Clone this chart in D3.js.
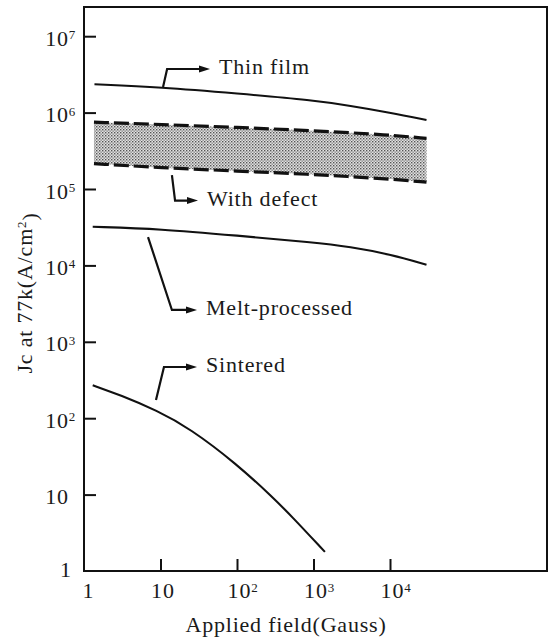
<!DOCTYPE html>
<html><head><meta charset="utf-8">
<script src="https://cdn.jsdelivr.net/npm/d3@7"></script>
<style>body{margin:0;background:#fff}svg text{font-family:"Liberation Serif","Times New Roman",serif;fill:#1a1a1a}</style>
</head><body><svg id="c" width="549" height="640"></svg>
<script>
// Data (x in Gauss, y in A/cm^2)
const thinFilmX = [1.37, 10, 100, 1000, 3000, 10000, 30000];
const thinFilmY = [2.35e6, 2.15e6, 1.78e6, 1.45e6, 1.23e6, 1.0e6, 8.0e5];
const defectUpperX = [1.35, 10, 100, 1000, 10000, 30000];
const defectUpperY = [7.5e5, 7.0e5, 6.4e5, 5.8e5, 5.1e5, 4.6e5];
const defectLowerX = [1.35, 10, 100, 1000, 3000, 10000, 30000];
const defectLowerY = [2.15e5, 1.9e5, 1.72e5, 1.55e5, 1.45e5, 1.35e5, 1.23e5];
const meltX = [1.3, 10, 100, 1000, 3000, 10000, 30000];
const meltY = [3.2e4, 3.0e4, 2.45e4, 2.0e4, 1.75e4, 1.4e4, 1.02e4];
const sinteredX = [1.3, 3, 9, 24, 100, 300, 500, 1410];
const sinteredY = [270, 200, 126, 74, 25, 9.0, 5.4, 1.78];
const xTickVals = [1, 10, 100, 1000, 10000];
const xTickLabels = ["1", "10", "10^2", "10^3", "10^4"];
const yTickVals = [1, 10, 100, 1000, 1e4, 1e5, 1e6, 1e7];
const yTickLabels = ["1", "10", "10^2", "10^3", "10^4", "10^5", "10^6", "10^7"];
const annotations = [
  {label: "Thin film", at: [10.8, 2.16e6], elbow: [12.2, 3.72e6], tip: [44.4, 3.72e6]},
  {label: "With defect", at: [14.1, 1.52e5], elbow: [15.5, 7.05e4], tip: [30.9, 7.05e4]},
  {label: "Melt-processed", at: [6.87, 2.35e4], elbow: [14.1, 2.61e3], tip: [30.0, 2.61e3]},
  {label: "Sintered", at: [8.73, 173], elbow: [11.1, 468], tip: [30.0, 468]}
];

const svg = d3.select("#c");
const L = 84, T = 7, R = 547, B = 571;
const x = d3.scaleLog().domain([1, Math.pow(10, (R - L) / 76.5)]).range([L, R]);
const y = d3.scaleLog().domain([1, Math.pow(10, (B - T) / 76.4)]).range([B, T]);
const FS = 22, LS = "0.8px";

// stipple pattern
const defs = svg.append("defs");
const pat = defs.append("pattern").attr("id", "stip").attr("patternUnits", "userSpaceOnUse").attr("width", 3).attr("height", 3);
pat.append("rect").attr("width", 3).attr("height", 3).attr("fill", "#e2e2e2");
pat.append("rect").attr("x", 0).attr("y", 0).attr("width", 1.4).attr("height", 1.4).attr("fill", "#555");
pat.append("rect").attr("x", 1.5).attr("y", 1.5).attr("width", 1.3).attr("height", 1.3).attr("fill", "#777");

// frame
svg.append("rect").attr("x", L).attr("y", T).attr("width", R - L).attr("height", B - T)
  .attr("fill", "none").attr("stroke", "#111").attr("stroke-width", 2);

// axes with inward ticks
const xAxis = svg.append("g").attr("transform", `translate(0,${B})`)
  .call(d3.axisBottom(x).tickValues(xTickVals.slice(1)).tickSize(-12).tickFormat(() => ""));
xAxis.select(".domain").remove();
xAxis.selectAll(".tick line").attr("stroke", "#111").attr("stroke-width", 2);
const yAxis = svg.append("g").attr("transform", `translate(${L},0)`)
  .call(d3.axisLeft(y).tickValues(yTickVals.slice(1)).tickSize(-12).tickFormat(() => ""));
yAxis.select(".domain").remove();
yAxis.selectAll(".tick line").attr("stroke", "#111").attr("stroke-width", 2);

function powLabel(g, lab, px, py, anchorBaseEnd) {
  const parts = lab.split("^");
  const t = g.append("text").attr("y", py).attr("font-size", FS + "px").attr("letter-spacing", LS);
  t.append("tspan").text(parts[0]);
  if (parts[1]) t.append("tspan").attr("dy", "-0.5em").attr("font-size", "13px").text(parts[1]);
  const baseW = parts[0].length * FS * 0.5 + (parts[0].length - 1) * 0.8;
  if (anchorBaseEnd) t.attr("x", px - baseW);
  else t.attr("x", px - baseW / 2);
}
const xl = svg.append("g");
xTickVals.forEach((v, i) => powLabel(xl, xTickLabels[i], x(v) + (i === 0 ? 4 : 2), 598, false));
const ylab = svg.append("g");
yTickVals.forEach((v, i) => powLabel(ylab, yTickLabels[i], i === 0 ? 71 : 68, y(v) + (i === 0 ? 6 : 9.5), true));

// band
const interpLower = xv => {
  const s = d3.scaleLinear().domain(defectLowerX.map(Math.log10)).range(defectLowerY.map(Math.log10));
  return Math.pow(10, s(Math.log10(xv)));
};
const bandPts = defectLowerX.map(v => {
  const su = d3.scaleLinear().domain(defectUpperX.map(Math.log10)).range(defectUpperY.map(Math.log10));
  return [v, Math.pow(10, su(Math.log10(v))), interpLower(v)];
});
const area = d3.area().x(d => x(d[0])).y0(d => y(d[2])).y1(d => y(d[1])).curve(d3.curveMonotoneX);
svg.append("path").datum(bandPts).attr("d", area).attr("fill", "url(#stip)");

const line = d3.line().x(d => x(d[0])).y(d => y(d[1])).curve(d3.curveBasis);
const series = [
  [thinFilmX, thinFilmY, null], [defectUpperX, defectUpperY, "15,5"],
  [defectLowerX, defectLowerY, "15,5"], [meltX, meltY, null], [sinteredX, sinteredY, null]
];
series.forEach(([xs, ys, dash]) => {
  svg.append("path").datum(xs.map((v, i) => [v, ys[i]])).attr("d", line)
    .attr("fill", "none").attr("stroke", "#111").attr("stroke-width", dash ? 3.2 : 2.1)
    .attr("stroke-dasharray", dash);
});

// annotations
annotations.forEach(a => {
  const pts = [a.at, a.elbow, a.tip].map(p => [x(p[0]), y(p[1])]);
  const [tx, ty] = pts[2];
  const linePts = pts.slice(0, 2).concat([[tx - 6, ty]]);
  svg.append("path").attr("d", d3.line()(linePts)).attr("fill", "none").attr("stroke", "#111").attr("stroke-width", 2.2);
  svg.append("path").attr("d", `M${tx},${ty} L${tx - 11},${ty - 3.5} L${tx - 11},${ty + 3.5} Z`).attr("fill", "#111");
  svg.append("text").attr("x", tx + 9).attr("y", ty + 5).attr("font-size", FS + "px").attr("letter-spacing", LS).text(a.label);
});

// axis titles
svg.append("text").attr("x", 286).attr("y", 632).attr("text-anchor", "middle").attr("font-size", FS + "px")
  .attr("letter-spacing", LS).text("Applied field(Gauss)");
const yl = svg.append("text").attr("transform", "translate(32,293) rotate(-90)").attr("text-anchor", "middle")
  .attr("font-size", FS + "px").attr("letter-spacing", LS);
yl.append("tspan").text("Jc at 77k(A/cm");
yl.append("tspan").attr("dy", "-0.5em").attr("font-size", "13px").text("2");
yl.append("tspan").attr("dy", "0.5em").text(")");
</script></body></html>
